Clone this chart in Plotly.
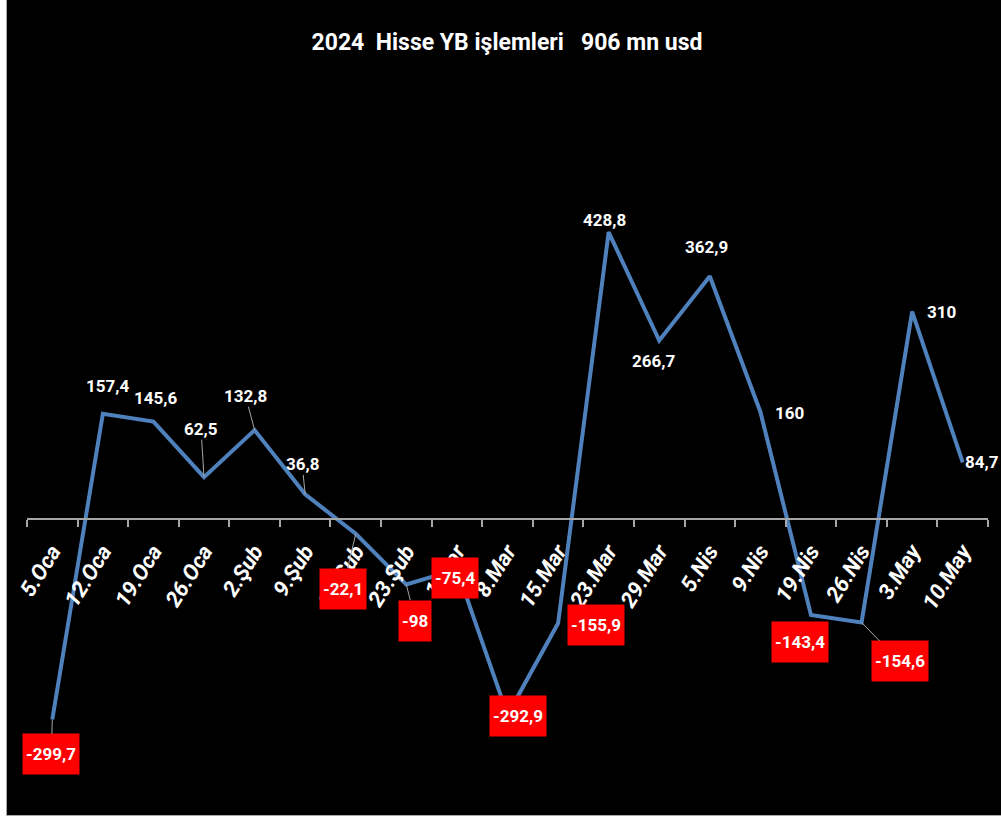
import plotly.graph_objects as go

# ----- data -----
weeks = ["5.Oca", "12.Oca", "19.Oca", "26.Oca", "2.Şub", "9.Şub", "16.Şub", "23.Şub",
         "1.Mar", "8.Mar", "15.Mar", "23.Mar", "29.Mar", "5.Nis", "9.Nis", "19.Nis",
         "26.Nis", "3.May", "10.May"]
flows = [-299.7, 157.4, 145.6, 62.5, 132.8, 36.8, -22.1, -98, -75.4, -292.9,
         -155.9, 428.8, 266.7, 362.9, 160, -143.4, -154.6, 310, 84.7]
labels = ["-299,7", "157,4", "145,6", "62,5", "132,8", "36,8", "-22,1", "-98",
          "-75,4", "-292,9", "-155,9", "428,8", "266,7", "362,9", "160", "-143,4",
          "-154,6", "310", "84,7"]
title_text = "2024\u00a0\u00a0Hisse YB işlemleri\u00a0\u00a0\u00a0906 mn usd"

# ----- label placement (pixel offsets from the point) -----
lbl_dx = [-1, 5, 2, -3, -9, -3, -13, 9, -2, 10, 38, -4, -6, -3, 29, -11, 38, 29, 19]
lbl_dy = [35, -28, -24, -48, -34, -30, 55, 36, 9, 1, 2, -12, 20, -29, 1, 27, 39, 0, 0]
leader = [True, False, False, True, True, True, True, True, False, False,
          False, False, False, False, False, False, True, False, False]

FONT = "Roboto, 'Liberation Sans', sans-serif"
LINE_BLUE = "#4F81BD"
GREY = "#A6A6A6"

L, R, T, B = 27, 13, 100, 3
W, H = 1001, 818
pw, ph = W - L - R, H - T - B
y_lo, y_hi = -442.5, 626.3

fig = go.Figure()
fig.add_trace(go.Scatter(x=weeks, y=flows, mode="lines",
                         line=dict(color=LINE_BLUE, width=4),
                         hoverinfo="x+y", showlegend=False))

for i, (w, v, t) in enumerate(zip(weeks, flows, labels)):
    neg = v < 0
    fig.add_annotation(
        x=w, y=v, text=t, showarrow=True, arrowhead=0, arrowwidth=1,
        arrowcolor=GREY if leader[i] else "rgba(0,0,0,0)",
        ax=lbl_dx[i], ay=lbl_dy[i], standoff=0,
        font=dict(family=FONT, size=17, color="white", weight="bold"),
        bgcolor="#FF0000" if neg else "rgba(0,0,0,0)",
        height=34 if neg else None,
        borderpad=3 if neg else 0,
    )

# black chart area with grey frame (left/bottom edges visible)
fig.add_shape(type="rect", xref="paper", yref="paper", layer="below",
              x0=(6.5 - L) / pw, x1=(W + 10 - L) / pw,
              y0=-0.5 / ph, y1=1.3,
              fillcolor="black", line=dict(color=GREY, width=1))

fig.update_layout(
    width=W, height=H,
    margin=dict(l=L, r=R, t=T, b=B),
    paper_bgcolor="white", plot_bgcolor="black",
    title=dict(text=title_text, x=507 / W, xanchor="center",
               y=1 - 42 / H, yanchor="middle",
               font=dict(family=FONT, size=23, color="white", weight="bold")),
    xaxis=dict(type="category", categoryarray=weeks, range=[-0.5, 18.5],
               anchor="free", position=(0 - y_lo) / (y_hi - y_lo),
               showline=True, linecolor=GREY, linewidth=1.5,
               ticks="outside", tickson="boundaries", ticklen=7,
               tickcolor=GREY, tickwidth=1.5, tickangle=-58,
               ticklabelstandoff=10,
               tickfont=dict(family=FONT, size=22, color="white",
                             weight="bold", style="italic"),
               showgrid=False, zeroline=False),
    yaxis=dict(range=[y_lo, y_hi], visible=False, showgrid=False, zeroline=False),
)

# drop the browser's default body margin so the figure sits at the page corner
fig.write_html("out.html", config={"displayModeBar": False},
               post_script="document.body.style.margin = '0';")
